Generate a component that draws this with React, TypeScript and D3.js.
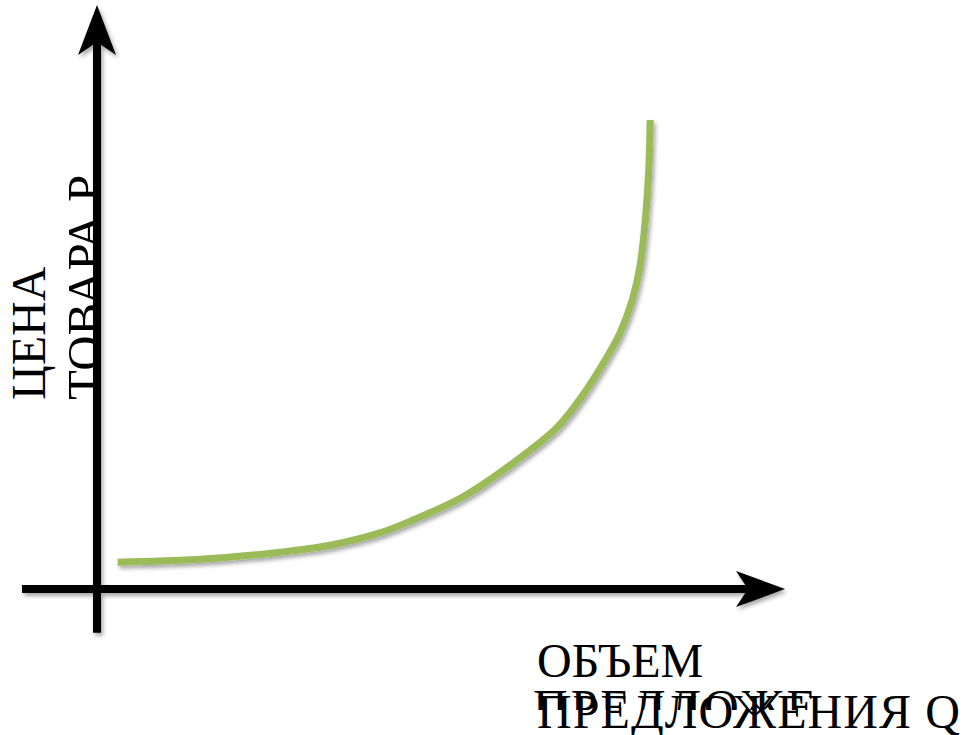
import React from "react";
import * as d3 from "d3";

// Supply curve: quantity Q vs price P (conceptual units 0..100)
const quantity = [3.0, 15.0, 26.6, 33.9, 41.1, 45.9, 53.2, 60.5, 66.9, 70.6, 74.1, 76.0, 77.8, 78.9, 79.7, 80.2, 80.4];
const price = [4.6, 5.1, 6.3, 7.5, 9.6, 11.8, 15.8, 21.6, 27.7, 33.2, 39.7, 43.8, 49.5, 55.1, 63.2, 71.7, 80.3];

const yLabelLines = ["ЦЕНА", "ТОВАРА Р"];
const xLabelLines = ["ОБЪЕМ", "ПРЕДЛОЖЕНИЯ Q"];
const xLabelGhost = "ПРЕДЛОЖЕ";

const W = 965;
const H = 735;

export default function App() {
  const x = d3.scaleLinear().domain([0, 100]).range([97, 785]);
  const y = d3.scaleLinear().domain([0, 100]).range([589, 5]);

  const pts: [number, number][] = quantity.map((q, i) => [q, price[i]]);
  const line = d3
    .line<[number, number]>()
    .x((d) => x(d[0]))
    .y((d) => y(d[1]))
    .curve(d3.curveCatmullRom.alpha(0.5));

  // axis geometry derived from scales
  const x0 = x(0);
  const y0 = y(0);
  const xEnd = x(100);
  const yEnd = y(100);
  const vLine = { x: x0, y1: y(-7.5), y2: y(94) };
  const hLine = { y: y0, x1: x(-10.9), x2: x(95.5) };
  const vHead = [
    [x0, yEnd],
    [x0 - 19, yEnd + 50],
    [x0, yEnd + 37],
    [x0 + 19, yEnd + 50],
  ];
  const hHead = [
    [xEnd, y0],
    [xEnd - 49, y0 - 18],
    [xEnd - 37, y0],
    [xEnd - 49, y0 + 18],
  ];
  const poly = (p: number[][]) => p.map((d) => d.join(",")).join(" ");

  const font = "'Liberation Serif', 'Times New Roman', serif";

  return (
    <svg
      width={W}
      height={H}
      viewBox={`0 0 ${W} ${H}`}
      style={{ position: "absolute", left: 0, top: 0, background: "#fff" }}
    >
      <defs>
        <filter id="shadow" x="-10%" y="-10%" width="120%" height="130%">
          <feDropShadow dx="2" dy="3" stdDeviation="2" floodColor="#000" floodOpacity="0.35" />
        </filter>
        <clipPath id="ghostClip">
          <rect x={0} y={680} width={W} height={30} />
        </clipPath>
      </defs>

      {/* axes */}
      <g filter="url(#shadow)">
        <line x1={vLine.x} x2={vLine.x} y1={vLine.y1} y2={vLine.y2} stroke="#000" strokeWidth={8} />
        <polygon points={poly(vHead)} fill="#000" />
        <line x1={hLine.x1} x2={hLine.x2} y1={hLine.y} y2={hLine.y} stroke="#000" strokeWidth={8} />
        <polygon points={poly(hHead)} fill="#000" />
      </g>

      {/* supply curve */}
      <path
        d={line(pts) || ""}
        fill="none"
        stroke="#9BBB59"
        strokeWidth={7}
        strokeLinecap="butt"
        filter="url(#shadow)"
      />

      {/* y label */}
      <g fontFamily={font} fontSize={48} fill="#000">
        <text transform="translate(45,400) rotate(-90)">{yLabelLines[0]}</text>
        <text transform="translate(101,400) rotate(-90) scale(1.02,1)">{yLabelLines[1]}</text>
      </g>

      {/* x label */}
      <g fontFamily={font} fontSize={48} fill="#000">
        <text x={537} y={677}>{xLabelLines[0]}</text>
        <text x={533} y={723} letterSpacing={3} clipPath="url(#ghostClip)">{xLabelGhost}</text>
        <text x={537} y={728} letterSpacing={1.1}>{xLabelLines[1]}</text>
      </g>
    </svg>
  );
}
